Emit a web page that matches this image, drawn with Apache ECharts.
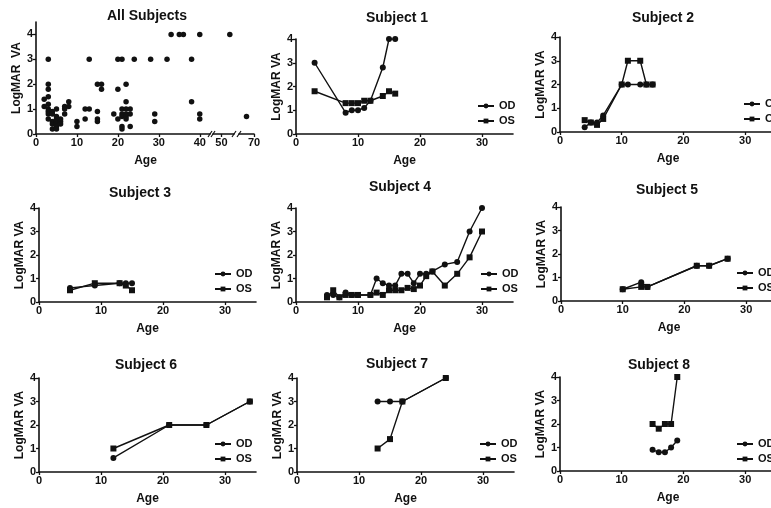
<!DOCTYPE html>
<html>
<head>
<meta charset="utf-8">
<script src="https://cdn.jsdelivr.net/npm/echarts@6/dist/echarts.min.js"></script>
<style>
html, body { margin: 0; padding: 0; background: #fff; }
#main { width: 771px; height: 508px; }
</style>
</head>
<body>
<div id="main"></div>
<script>
// All Subjects (age, LogMAR VA)
var allAge = [2, 2,
  3, 3, 3, 3, 3, 3, 3, 3, 3,
  4, 4, 4, 4, 4,
  5, 5, 5, 5, 5, 5, 5,
  6, 6, 6,
  7, 7, 7,
  8, 8,
  10, 10,
  12, 12,
  13, 13,
  15, 15, 15, 15,
  16, 16,
  19,
  20, 20, 20,
  21, 21, 21, 21, 21, 21,
  22, 22, 22, 22, 22, 22,
  23, 23, 23,
  24, 28,
  29, 29,
  32, 33, 35, 36,
  38, 38,
  40, 40, 40,
  54, 65];
var allVA = [1.4, 1.1,
  3.0, 2.0, 1.8, 1.5, 1.2, 1.0, 0.9, 0.8, 0.6,
  0.9, 0.8, 0.5, 0.4, 0.2,
  1.0, 0.7, 0.6, 0.5, 0.4, 0.3, 0.2,
  0.6, 0.5, 0.4,
  1.1, 1.0, 0.8,
  1.3, 1.1,
  0.5, 0.3,
  1.0, 0.6,
  3.0, 1.0,
  2.0, 0.9, 0.6, 0.5,
  2.0, 1.8,
  0.8,
  3.0, 1.8, 0.6,
  3.0, 1.0, 0.8, 0.7, 0.3, 0.2,
  2.0, 1.3, 1.0, 0.8, 0.7, 0.6,
  1.0, 0.8, 0.3,
  3.0, 3.0,
  0.8, 0.5,
  3.0, 4.0, 4.0, 4.0,
  3.0, 1.3,
  4.0, 0.8, 0.6,
  4.0, 0.7];

var s1Age = [3, 8, 9, 10, 11, 12, 14, 15, 16];
var s1OD = [3.0, 0.9, 1.0, 1.0, 1.1, 1.4, 2.8, 4.0, 4.0];
var s1OS = [1.8, 1.3, 1.3, 1.3, 1.4, 1.4, 1.6, 1.8, 1.7];

var s2Age = [4, 5, 6, 7, 10, 11, 13, 14, 15];
var s2OD = [0.2, 0.4, 0.4, 0.7, 2.0, 2.0, 2.0, 2.0, 2.0];
var s2OS = [0.5, 0.4, 0.3, 0.55, 2.0, 3.0, 3.0, 2.0, 2.0];

var s3Age = [5, 9, 13, 14, 15];
var s3OD = [0.6, 0.7, 0.8, 0.8, 0.8];
var s3OS = [0.5, 0.8, 0.8, 0.7, 0.5];

var s4Age = [5, 6, 7, 8, 9, 10, 12, 13, 14, 15, 16, 17, 18, 19, 20, 21, 22, 24, 26, 28, 30];
var s4OD = [0.3, 0.3, 0.2, 0.4, 0.3, 0.3, 0.3, 1.0, 0.8, 0.7, 0.7, 1.2, 1.2, 0.8, 1.2, 1.2, 1.3, 1.6, 1.7, 3.0, 4.0];
var s4OS = [0.2, 0.5, 0.2, 0.3, 0.3, 0.3, 0.3, 0.4, 0.3, 0.5, 0.5, 0.5, 0.6, 0.55, 0.7, 1.1, 1.3, 0.7, 1.2, 1.9, 3.0];

var s5Age = [10, 13, 14, 22, 24, 27];
var s5OD = [0.5, 0.8, 0.6, 1.5, 1.5, 1.8];
var s5OS = [0.5, 0.6, 0.6, 1.5, 1.5, 1.8];

var s6Age = [12, 21, 27, 34];
var s6OD = [0.6, 2.0, 2.0, 3.0];
var s6OS = [1.0, 2.0, 2.0, 3.0];

var s7Age = [13, 15, 17, 24];
var s7OD = [3.0, 3.0, 3.0, 4.0];
var s7OS = [1.0, 1.4, 3.0, 4.0];

var s8Age = [15, 16, 17, 18, 19];
var s8OD = [0.9, 0.8, 0.8, 1.0, 1.3];
var s8OS = [2.0, 1.8, 2.0, 2.0, 4.0];

var yTicks = [0, 1, 2, 3, 4];
var xTicks = [0, 10, 20, 30];
var allXTicks = [0, 10, 20, 30, 40];

var ink = '#111';
var font = '"Liberation Sans", Arial, sans-serif';

var grids = [];
var xAxes = [];
var yAxes = [];
var series = [];
var legends = [];
var graphics = [];

function pairs (xs, ys) {
  return xs.map(function (x, i) { return [x, ys[i]] })
}

function lineAxis (show) {
  return {
    show: show,
    axisLine: { show: true, onZero: false, lineStyle: { color: ink, width: 1.6 } },
    axisTick: { show: true, length: 3, lineStyle: { color: ink, width: 1.3 } },
    axisLabel: { margin: 3, color: ink, fontSize: 11, fontWeight: 'bold', fontFamily: font },
    splitLine: { show: false }
  }
}

// one grid with its own x and y axis
function addGrid (box, xMin, xMax, xVals, yMax, opt) {
  var i = grids.length
  grids.push({ left: box[0], top: box[1], width: box[2], height: box[3], outerBoundsMode: 'none' })
  var xa = lineAxis(true)
  xa.gridIndex = i
  xa.type = 'value'
  xa.min = xMin
  xa.max = xMax
  xa.axisTick.customValues = xVals
  xa.axisLabel.customValues = xVals
  if (opt.xName) {
    xa.name = 'Age'
    xa.nameLocation = 'middle'
    xa.nameGap = 21
    xa.nameTextStyle = { color: ink, fontSize: 12, fontWeight: 'bold', fontFamily: font, padding: opt.xNamePad || 0 }
  }
  xAxes.push(xa)
  var ya = lineAxis(opt.showY)
  ya.gridIndex = i
  ya.type = 'value'
  ya.min = 0
  ya.max = yMax
  ya.axisTick.customValues = yTicks
  ya.axisLabel.customValues = yTicks
  if (opt.showY) {
    ya.name = opt.yName || 'LogMAR VA'
    ya.nameLocation = 'middle'
    ya.nameGap = 13
    ya.nameTextStyle = { color: ink, fontSize: 12, fontWeight: 'bold', fontFamily: font }
  }
  yAxes.push(ya)
  return i
}

function addTitle (text, x, y) {
  graphics.push({
    type: 'text', x: x, y: y,
    style: { text: text, align: 'center', verticalAlign: 'middle', fill: ink, font: 'bold 14px ' + font }
  })
}

// ---- All Subjects, broken x axis: three grids ----
var p1Top = 22
var p1H = 112
var seg1 = addGrid([36, p1Top, 174, p1H], 0, 42.5, allXTicks, 4.5, { showY: true, xName: true, xNamePad: [0, 0, 0, 45], yName: 'LogMAR  VA' })
var seg2 = addGrid([213, p1Top, 21, p1H], 46, 56, [50], 4.5, { showY: false })
var seg3 = addGrid([239, p1Top, 15, p1H], 60, 70, [70], 4.5, { showY: false })
var segs = [[seg1, 0, 42.5], [seg2, 46, 56], [seg3, 60, 70]]
segs.forEach(function (s) {
  var pts = pairs(allAge, allVA).filter(function (p) { return p[0] >= s[1] && p[0] <= s[2] })
  series.push({
    type: 'scatter', xAxisIndex: s[0], yAxisIndex: s[0], data: pts,
    symbol: 'circle', symbolSize: 5.5, itemStyle: { color: ink, opacity: 1 }
  })
})
addTitle('All Subjects', 147, 16)
// axis break marks
;[210, 213, 234, 239].forEach(function (x) {
  graphics.push({
    type: 'line', shape: { x1: x - 2, y1: p1Top + p1H + 3, x2: x + 2, y2: p1Top + p1H - 3 },
    style: { stroke: ink, lineWidth: 1.2 }
  })
})

// ---- Subjects 1-8 ----
var panels = [
  { title: 'Subject 1', age: s1Age, od: s1OD, os: s1OS, box: [296, 39, 217, 95], t: [397, 18], lg: [485, 107] },
  { title: 'Subject 2', age: s2Age, od: s2OD, os: s2OS, box: [560, 37, 216, 95], t: [663, 18], lg: [751, 105] },
  { title: 'Subject 3', age: s3Age, od: s3OD, os: s3OS, box: [39, 208, 217, 94], t: [140, 193], lg: [222, 275] },
  { title: 'Subject 4', age: s4Age, od: s4OD, os: s4OS, box: [296, 208, 217, 94], t: [400, 187], lg: [488, 275] },
  { title: 'Subject 5', age: s5Age, od: s5OD, os: s5OS, box: [561, 207, 216, 94], t: [667, 190], lg: [744, 274] },
  { title: 'Subject 6', age: s6Age, od: s6OD, os: s6OS, box: [39, 378, 217, 94], t: [146, 365], lg: [222, 445] },
  { title: 'Subject 7', age: s7Age, od: s7OD, os: s7OS, box: [297, 378, 217, 94], t: [397, 364], lg: [487, 445] },
  { title: 'Subject 8', age: s8Age, od: s8OD, os: s8OS, box: [560, 377, 216, 94], t: [659, 365], lg: [744, 445] }
]

panels.forEach(function (p) {
  var i = addGrid(p.box, 0, 35, xTicks, 4, { showY: true, xName: true })
  series.push({
    type: 'line', name: 'OD', xAxisIndex: i, yAxisIndex: i, data: pairs(p.age, p.od),
    symbol: 'circle', symbolSize: 6, z: 3,
    lineStyle: { color: ink, width: 1.4 }, itemStyle: { color: ink, opacity: 1 }
  })
  series.push({
    type: 'line', name: 'OS', xAxisIndex: i, yAxisIndex: i, data: pairs(p.age, p.os),
    symbol: 'rect', symbolSize: 6, z: 2,
    lineStyle: { color: ink, width: 1.4 }, itemStyle: { color: ink, opacity: 1 }
  })
  legends.push({
    data: ['OD', 'OS'], orient: 'vertical', selectedMode: false,
    left: p.lg[0] - 13, top: p.lg[1] - 11.5,
    itemWidth: 16, itemHeight: 6, itemGap: 4,
    textStyle: { color: ink, fontSize: 11, fontWeight: 'bold', fontFamily: font }
  })
  addTitle(p.title, p.t[0], p.t[1])
})

var chart = echarts.init(document.getElementById('main'), null, { renderer: 'canvas' })
chart.setOption({
  animation: false,
  backgroundColor: '#fff',
  grid: grids,
  xAxis: xAxes,
  yAxis: yAxes,
  legend: legends,
  graphic: graphics,
  series: series
})
</script>
</body>
</html>
